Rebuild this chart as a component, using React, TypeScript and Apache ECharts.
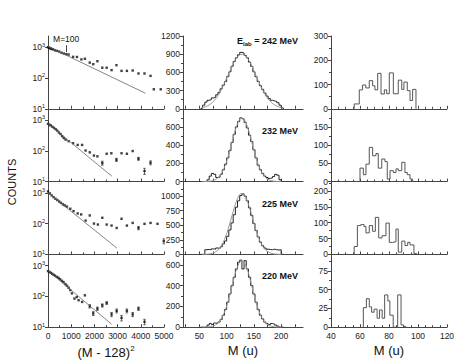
import { useEffect, useRef } from "react";
import * as echarts from "echarts";

const FONT = "'Liberation Sans', Arial, Helvetica, sans-serif";

// ---------- Column 1: counts vs (M-128)^2  [x, counts, error] ----------
const dev242: number[][] = [
  [0, 1000], [40, 960], [80, 930], [120, 900], [170, 870], [220, 850], [300, 790], [380, 760],
  [480, 720], [580, 660], [680, 620], [790, 590], [890, 575], [1080, 485], [1250, 480], [1440, 400],
  [1590, 420], [1800, 315], [1950, 280], [2130, 350], [2340, 215], [2530, 215],
  [2740, 180], [2950, 260], [3170, 170], [3400, 170], [3650, 175], [3900, 140],
  [4160, 140], [4420, 117], [4560, 43], [4860, 43],
];
const dev232: number[][] = [
  [0, 750], [60, 700], [120, 660], [190, 600], [260, 550], [330, 500], [400, 450], [470, 390],
  [540, 350], [610, 300], [680, 260], [760, 230], [890, 205], [1080, 176], [1280, 155], [1470, 155],
  [1620, 102], [1800, 89], [1980, 70], [2130, 66], [2340, 40, 6], [2530, 80],
  [2730, 83], [2950, 51, 6], [3170, 83], [3400, 80], [3650, 98], [3900, 55, 6],
  [4160, 22, 5], [4420, 41, 6],
];
const dev225: number[][] = [
  [0, 1100], [80, 950], [160, 820], [240, 720], [320, 640], [400, 580], [480, 520], [560, 470],
  [640, 420], [720, 390], [815, 355], [960, 303], [1100, 253], [1280, 213], [1430, 198],
  [1620, 125], [1800, 183], [1980, 100], [2150, 93], [2340, 154], [2530, 93],
  [2740, 86], [2960, 72], [3170, 143], [3400, 86], [3650, 105], [3900, 72, 9],
  [4160, 98], [4420, 105], [4720, 98], [4990, 27, 5],
];
const dev220: number[][] = [
  [0, 660], [60, 620], [120, 580], [180, 540], [240, 500], [300, 470], [380, 430], [450, 400],
  [520, 360], [600, 320], [670, 290], [750, 250], [820, 220], [890, 190], [960, 160], [1030, 125],
  [1140, 85], [1240, 95], [1320, 75], [1470, 66], [1590, 108], [1800, 48, 6],
  [1950, 28, 4], [2130, 40, 5], [2340, 51, 6], [2530, 61, 6], [2740, 26, 4], [2960, 34, 5],
  [3170, 20, 4], [3400, 34, 5], [3650, 26, 4], [3900, 40, 5], [4160, 15, 3],
];
const devFit242 = [[0, 1050], [4200, 32]];
const devFit232 = [[0, 760], [2750, 15]];
const devFit225 = [[0, 1000], [2970, 16]];
const devFit220 = [[0, 680], [2740, 12.5]];

// ---------- Column 2: mass distributions (4 u bins) ----------
const massCenters = [54, 58, 62, 66, 70, 74, 78, 82, 86, 90, 94, 98, 102, 106, 110, 114, 118, 122, 126,
  130, 134, 138, 142, 146, 150, 154, 158, 162, 166, 170, 174, 178, 182, 186, 190, 194, 198, 202];
const massBin = 4;
const hist242 = [10, 60, 110, 140, 150, 180, 190, 230, 270, 330, 390, 450, 530, 610, 700, 780, 840, 890, 930,
  920, 880, 840, 770, 700, 610, 530, 450, 380, 320, 260, 210, 170, 140, 130, 120, 100, 60, 15];
const hist232 = [0, 0, 0, 20, 60, 90, 80, 45, 50, 80, 130, 190, 260, 340, 430, 520, 600, 660, 700,
  690, 650, 590, 510, 440, 350, 260, 180, 130, 90, 60, 45, 35, 40, 55, 80, 70, 20, 0];
const hist225 = [0, 0, 80, 85, 80, 95, 90, 110, 100, 130, 180, 230, 310, 420, 540, 680, 810, 920, 1010,
  1040, 1000, 920, 800, 670, 530, 410, 300, 210, 150, 110, 90, 85, 80, 90, 80, 75, 80, 0];
const hist220 = [0, 0, 0, 20, 35, 25, 40, 35, 50, 75, 115, 170, 240, 320, 400, 480, 560, 625, 645,
  560, 640, 560, 480, 400, 320, 240, 170, 115, 80, 50, 35, 25, 35, 30, 20, 10, 0, 0];
const gfit242 = [16, 24, 36, 52, 75, 104, 142, 188, 244, 309, 383, 463, 546, 629, 708, 778, 836, 876, 897,
  897, 876, 836, 778, 708, 629, 546, 463, 383, 309, 244, 188, 142, 104, 75, 52, 36, 24, 16];
const gfit232 = [0, 0, 1, 3, 5, 10, 18, 32, 53, 85, 129, 188, 261, 345, 436, 526, 605, 664, 696,
  696, 664, 605, 526, 436, 345, 261, 188, 129, 85, 53, 32, 18, 10, 5, 3, 1, 0, 0];
const gfit225 = [1, 1, 3, 5, 10, 18, 33, 56, 91, 142, 212, 302, 412, 537, 670, 800, 914, 999, 1044,
  1044, 999, 914, 800, 670, 537, 412, 302, 212, 142, 91, 56, 33, 18, 10, 5, 3, 1, 1];
const gfit220 = [0, 0, 1, 3, 5, 9, 17, 29, 49, 78, 118, 172, 238, 316, 399, 481, 553, 607, 636,
  636, 607, 553, 481, 399, 316, 238, 172, 118, 78, 49, 29, 17, 9, 5, 3, 1, 0, 0];

// ---------- Column 3: low-mass histograms [left edge, count], last = end edge ----------
const asym242: number[][] = [
  [56, 20], [59.5, 78], [61.8, 98], [64, 86], [66.4, 116], [68.7, 95], [70.3, 78], [72.2, 146], [74.5, 61],
  [76.8, 78], [78.4, 62], [80.2, 148], [83, 62], [86.4, 118], [88.8, 80], [90.3, 110], [92.6, 75],
  [94.5, 34], [96.3, 80], [98.6, 0],
];
const asym232: number[][] = [
  [60, 37], [62.3, 19], [64.1, 48], [66.4, 94], [68.7, 71], [71, 77], [72.6, 37], [75, 62], [77.2, 55],
  [78.8, 7], [80.7, 30], [83, 25], [84.8, 35], [86.4, 30], [88.8, 53], [91, 25], [92.6, 19], [94.5, 7], [96.3, 0],
];
const asym225: number[][] = [
  [56, 25], [58.2, 91], [60.5, 94], [62.8, 88], [64.1, 68], [66.4, 91], [68.7, 73], [70.6, 117], [72.9, 52],
  [75.2, 59], [77.9, 99], [80.2, 38], [82.5, 40], [84.8, 80], [86.4, 7], [88.8, 42], [91, 28], [92.9, 38],
  [94.5, 30], [97.2, 3], [99, 0],
];
const asym220: number[][] = [
  [62.3, 26], [64.4, 38], [66.4, 27], [68, 20], [69.7, 24], [71.8, 12], [73.5, 23], [75.3, 12], [77, 43],
  [79.2, 35], [80.6, 16], [82.9, 0], [86, 43], [88.3, 3], [90, 1], [91.5, 0],
];

const energyLabels = ["242 MeV", "232 MeV", "225 MeV", "220 MeV"];
const logMax = 2300;
const col2YMax = [1200, 800, 1250, 700];
const col2YInt = [300, 200, 250, 200];
const col2LabelTop = [1200, 600, 1000, 600];
const col3YMax = [300, 200, 230, 97];
const col3YInt = [100, 50, 50, 25];
const col3LabelTop = [300, 150, 200, 75];
const col2XLabels = [50, 100, 150, 200];
const col2XTicks = [25, 50, 75, 100, 125, 150, 175, 200, 225];

const devPoints = [dev242, dev232, dev225, dev220];
const devFits = [devFit242, devFit232, devFit225, devFit220];
const massHists = [hist242, hist232, hist225, hist220];
const massFits = [gfit242, gfit232, gfit225, gfit220];
const asymHists = [asym242, asym232, asym225, asym220];

// layout
const ROW_TOP = 36;
const ROW_H = 72.8;
const COL_LEFT = [48, 183, 331];
const COL_W = [116, 120, 116];

const stepsFromCenters = (centers: number[], vals: number[], w: number) => {
  const pts: number[][] = [];
  centers.forEach((c, i) => {
    if (i === 0) pts.push([c - w / 2, 0]);
    pts.push([c - w / 2, vals[i]]);
    pts.push([c + w / 2, vals[i]]);
  });
  pts.push([centers[centers.length - 1] + w / 2, 0]);
  return pts;
};
const stepsFromEdges = (bins: number[][]) => {
  const pts: number[][] = [[bins[0][0], 0]];
  for (let i = 0; i < bins.length - 1; i++) {
    pts.push([bins[i][0], bins[i][1]]);
    pts.push([bins[i + 1][0], bins[i][1]]);
  }
  pts.push([bins[bins.length - 1][0], 0]);
  return pts;
};

function buildOption() {
  const grid: any[] = [];
  const xAxis: any[] = [];
  const yAxis: any[] = [];
  const series: any[] = [];
  const lineCol = "#444";
  const lbl = { fontFamily: FONT, fontSize: 8.5, color: "#222" };
  const axisLine = { show: true, onZero: false, lineStyle: { color: lineCol, width: 1 } };
  const nameStyle = { fontFamily: FONT, fontSize: 13, color: "#111" };
  const plain = (v: number) => String(v);

  for (let r = 0; r < 4; r++) {
    for (let c = 0; c < 3; c++) {
      const gi = r * 3 + c;
      const bottom = r === 3;
      grid.push({ left: COL_LEFT[c], top: ROW_TOP + r * ROW_H, width: COL_W[c], height: ROW_H, containLabel: false });
      const xBase: any = {
        type: "value",
        gridIndex: gi,
        axisLine,
        splitLine: { show: false },
        axisTick: { show: true, inside: true, length: 3, lineStyle: { color: lineCol } },
        axisLabel: { show: bottom, ...lbl, margin: 4, formatter: plain },
        nameLocation: "middle",
        nameGap: 17,
        nameTextStyle: nameStyle,
      };
      const yBase: any = {
        gridIndex: gi,
        axisLine,
        splitLine: { show: false },
        axisTick: { show: true, inside: false, length: 3, lineStyle: { color: lineCol } },
        axisLabel: { ...lbl, margin: 3 },
      };
      if (c === 0) {
        xAxis.push({
          ...xBase, min: 0, max: 5000, interval: 1000,
          minorTick: { show: true, splitNumber: 2, length: 2, lineStyle: { color: lineCol } },
          name: bottom ? "{a|(M - 128)}{s|2}" : "",
          nameTextStyle: {
            rich: {
              a: { ...nameStyle, lineHeight: 16 },
              s: { fontFamily: FONT, fontSize: 8, color: "#111", verticalAlign: "top", lineHeight: 9 },
            },
          },
        });
        yAxis.push({
          ...yBase, type: "log", logBase: 10, min: 10, max: logMax,
          axisLabel: {
            ...yBase.axisLabel, showMaxLabel: false,
            formatter: (v: number) => (v > 1500 ? "" : `{b|10}{s|${Math.round(Math.log10(v))}}`),
            rich: {
              b: { fontFamily: FONT, fontSize: 8.5, color: "#222", lineHeight: 11 },
              s: { fontFamily: FONT, fontSize: 5.5, color: "#222", verticalAlign: "top", lineHeight: 6 },
            },
          },
        });
        const pts = devPoints[r];
        series.push({
          type: "line", xAxisIndex: gi, yAxisIndex: gi, data: devFits[r], showSymbol: false,
          lineStyle: { color: "#666", width: 0.8 }, silent: true,
        });
        series.push({
          type: "custom", xAxisIndex: gi, yAxisIndex: gi, data: pts.filter((p) => p.length > 2),
          encode: { x: 0, y: 1 }, silent: true,
          renderItem: (_p: any, api: any) => {
            const x = api.value(0), y = api.value(1), e = api.value(2);
            const a = api.coord([x, y + e]);
            const b = api.coord([x, Math.max(y - e, 10.5)]);
            const st = { stroke: "#333", lineWidth: 0.7 };
            const cap = 1.3;
            return {
              type: "group",
              children: [
                { type: "line", shape: { x1: a[0], y1: a[1], x2: b[0], y2: b[1] }, style: st },
                { type: "line", shape: { x1: a[0] - cap, y1: a[1], x2: a[0] + cap, y2: a[1] }, style: st },
                { type: "line", shape: { x1: b[0] - cap, y1: b[1], x2: b[0] + cap, y2: b[1] }, style: st },
              ],
            };
          },
        });
        const sc: any = {
          type: "scatter", xAxisIndex: gi, yAxisIndex: gi, data: pts.map((p) => [p[0], p[1]]),
          symbol: "rect", symbolSize: 2.4, itemStyle: { color: "#111" }, silent: true,
        };
        if (r === 0) {
          sc.markLine = {
            silent: true, animation: false, symbolSize: [0, 5],
            lineStyle: { color: "#111", width: 0.8, type: "solid" },
            label: { show: true, position: "start", formatter: "M=100", distance: 2, ...lbl, color: "#111" },
            data: [[{ coord: [784, 1150], symbol: "none" }, { coord: [784, 690], symbol: "arrow" }]],
          };
        }
        series.push(sc);
      } else if (c === 1) {
        xAxis.push({
          ...xBase, min: 20, max: 240,
          axisLabel: { ...xBase.axisLabel, customValues: col2XLabels },
          axisTick: { ...xBase.axisTick, customValues: col2XTicks },
          name: bottom ? "M (u)" : "",
        });
        const top = col2LabelTop[r];
        yAxis.push({
          ...yBase, type: "value", min: 0, max: col2YMax[r], interval: col2YInt[r],
          axisLabel: { ...yBase.axisLabel, formatter: (v: number) => (v > top ? "" : String(v)) },
          minorTick: { show: true, splitNumber: 2, length: 2, lineStyle: { color: lineCol } },
        });
        series.push({
          type: "line", xAxisIndex: gi, yAxisIndex: gi, showSymbol: false, silent: true,
          data: stepsFromCenters(massCenters, massHists[r], massBin),
          lineStyle: { color: "#222", width: 1 },
        });
        series.push({
          type: "line", xAxisIndex: gi, yAxisIndex: gi, showSymbol: false, silent: true, smooth: 0.3,
          data: massCenters.map((m, i) => [m, massFits[r][i]]),
          lineStyle: { color: "#999", width: 1 },
        });
      } else {
        xAxis.push({
          ...xBase, min: 40, max: 120, interval: 20,
          minorTick: { show: true, splitNumber: 4, length: 2, lineStyle: { color: lineCol } },
          name: bottom ? "M (u)" : "",
        });
        const top = col3LabelTop[r];
        yAxis.push({
          ...yBase, type: "value", min: 0, max: col3YMax[r], interval: col3YInt[r],
          axisLabel: { ...yBase.axisLabel, formatter: (v: number) => (v > top ? "" : String(v)) },
          minorTick: { show: true, splitNumber: 2, length: 2, lineStyle: { color: lineCol } },
        });
        series.push({
          type: "line", xAxisIndex: gi, yAxisIndex: gi, showSymbol: false, silent: true,
          data: stepsFromEdges(asymHists[r]),
          lineStyle: { color: "#555", width: 1 },
        });
      }
    }
  }

  const boldRich = {
    b: { fontFamily: FONT, fontSize: 9, fontWeight: "bold", fill: "#111", lineHeight: 12 },
    sub: { fontFamily: FONT, fontSize: 6, fontWeight: "bold", fill: "#111", verticalAlign: "bottom", lineHeight: 8 },
  };
  const graphic: any[] = [
    {
      type: "text", x: 12, y: 182, rotation: Math.PI / 2,
      style: { text: "COUNTS", fontFamily: FONT, fontSize: 11, fill: "#111", align: "center", verticalAlign: "middle" },
    },
  ];
  const labelY = [41, 131, 204, 276];
  energyLabels.forEach((t, r) => {
    graphic.push({
      type: "text", x: 298, y: labelY[r],
      style: {
        text: r === 0 ? `{b|E}{sub|lab}{b| = ${t}}` : `{b|${t}}`,
        rich: boldRich, align: "right", verticalAlign: "middle",
      },
    });
  });

  return { animation: false, backgroundColor: "#fff", grid, xAxis, yAxis, series, graphic };
}

export default function App() {
  const ref = useRef<HTMLDivElement>(null);
  useEffect(() => {
    if (!ref.current) return;
    const chart = echarts.init(ref.current, undefined, { renderer: "svg" });
    chart.setOption(buildOption() as any);
    return () => chart.dispose();
  }, []);
  return (
    <div
      ref={ref}
      style={{ position: "fixed", left: 0, top: 0, width: 471, height: 364, background: "#fff" }}
    />
  );
}
